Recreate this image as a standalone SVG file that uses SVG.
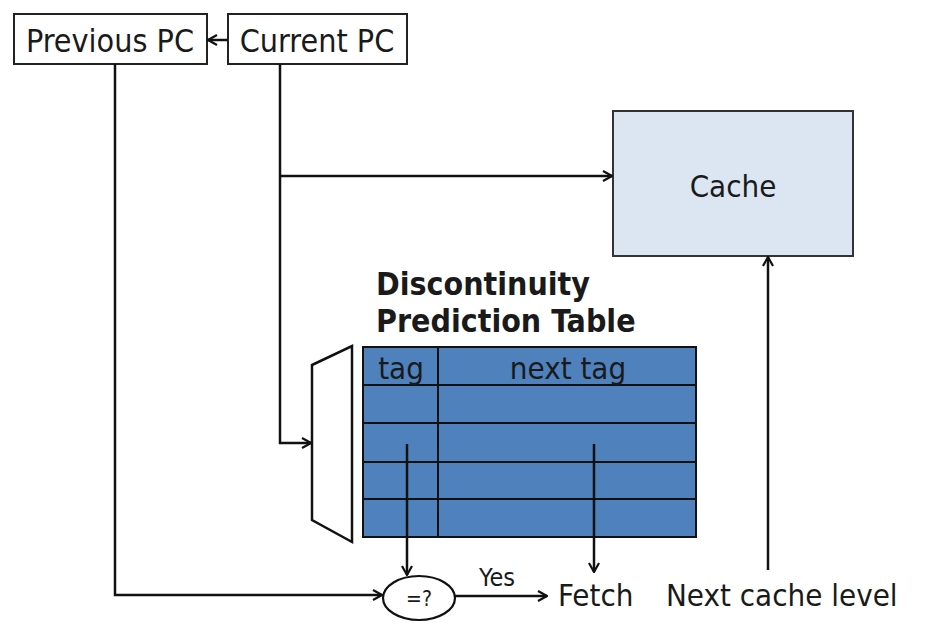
<svg xmlns="http://www.w3.org/2000/svg" width="931" height="632" viewBox="0 0 931 632">
<style>
text{font-family:"DejaVu Sans Condensed","DejaVu Sans","Liberation Sans",sans-serif;font-stretch:condensed;fill:#1a1a1a}
.box{fill:#fff;stroke:#222;stroke-width:2}
.lbl{font-size:32px}
.ln{fill:none;stroke:#111;stroke-width:2.5}
.tbl{fill:none;stroke:#111;stroke-width:2}
</style>
<defs>
<marker id="ah" viewBox="0 0 12 12" refX="11" refY="6" markerWidth="12" markerHeight="12" markerUnits="userSpaceOnUse" orient="auto">
<path d="M2,1 L11,6 L2,11" fill="none" stroke="#111" stroke-width="2.2"/>
</marker>
</defs>
<g id="prev-pc"><rect class="box" x="14" y="14" width="193" height="50"/><text class="lbl" x="110" y="52" text-anchor="middle">Previous PC</text></g>
<g id="curr-pc"><rect class="box" x="228" y="14" width="179" height="50"/><text class="lbl" x="317" y="52" text-anchor="middle">Current PC</text></g>
<g id="cache"><rect x="613" y="111" width="240" height="145" fill="#dce6f2" stroke="#333" stroke-width="2"/><text x="733" y="197" font-size="31" text-anchor="middle">Cache</text></g>
<g id="dpt-title"><text x="376" y="295" font-size="31.8" font-weight="bold" fill="#000">Discontinuity</text><text x="376" y="332" font-size="31.8" font-weight="bold" fill="#000">Prediction Table</text></g>
<g id="mux"><polygon points="312,365 352,346 352,542 312,520" fill="#fff" stroke="#111" stroke-width="2.5"/></g>
<g id="dpt">
<rect x="363" y="347" width="333" height="190" fill="#4f81bd"/>
<path class="tbl" d="M363,347H696V537H363Z M363,385H696 M363,423H696 M363,462H696 M363,499H696 M438,347V537"/>
<text x="401" y="379" font-size="31" text-anchor="middle">tag</text>
<text x="568" y="379" font-size="31" text-anchor="middle">next tag</text>
</g>
<g id="compare"><ellipse cx="419" cy="598" rx="36" ry="22" fill="#fff" stroke="#111" stroke-width="2.2"/><text x="419" y="606" font-size="21" text-anchor="middle">=?</text></g>
<g id="fetch"><text x="558" y="606" font-size="31">Fetch</text></g>
<g id="next-level"><text x="666" y="606" font-size="31">Next cache level</text></g>
<g id="connectors">
<line class="ln" x1="228" y1="40" x2="208" y2="40" marker-end="url(#ah)"/>
<polyline class="ln" points="115,64 115,595 382,595" marker-end="url(#ah)"/>
<polyline class="ln" points="280,64 280,443 311,443" marker-end="url(#ah)"/>
<line class="ln" x1="280" y1="176" x2="612" y2="176" marker-end="url(#ah)"/>
<line class="ln" x1="407" y1="444" x2="407" y2="575" marker-end="url(#ah)"/>
<line class="ln" x1="594" y1="444" x2="594" y2="572" marker-end="url(#ah)"/>
<line class="ln" x1="455" y1="596" x2="547" y2="596" marker-end="url(#ah)"/>
<line class="ln" x1="768" y1="570" x2="768" y2="257" marker-end="url(#ah)"/>
<text x="497" y="586" font-size="25" text-anchor="middle">Yes</text>
</g>
</svg>
